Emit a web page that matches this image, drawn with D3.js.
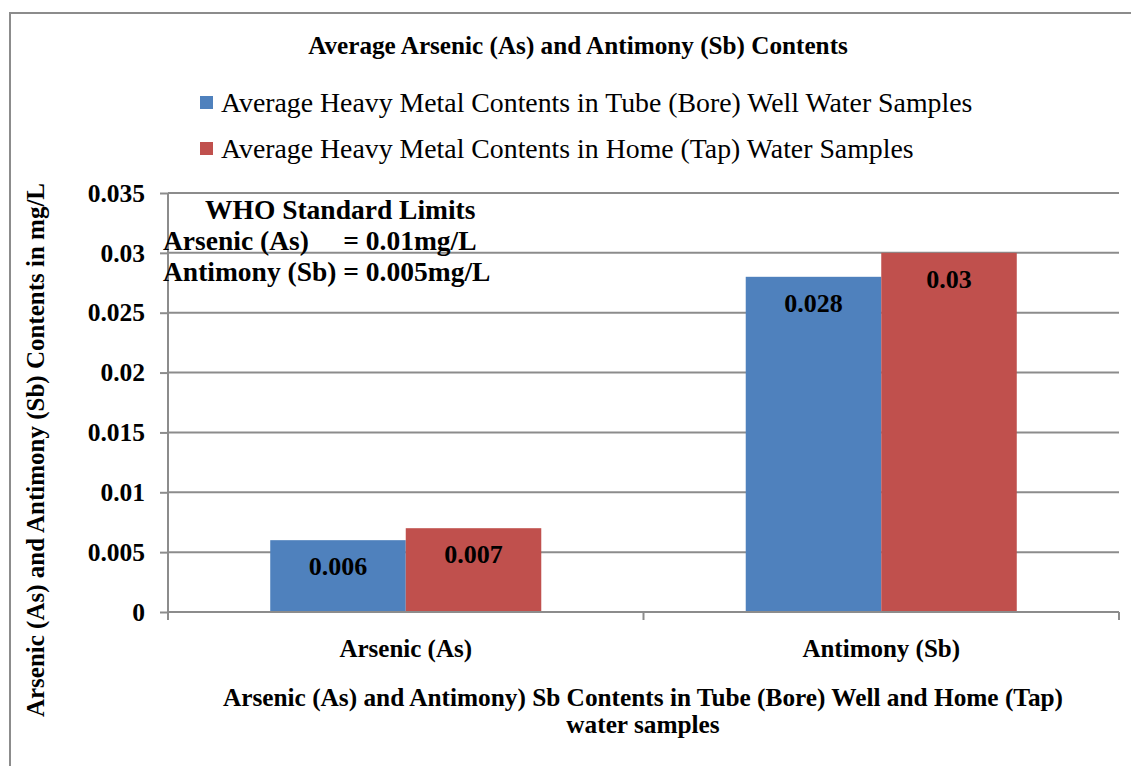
<!DOCTYPE html>
<html>
<head>
<meta charset="utf-8">
<script src="https://cdn.jsdelivr.net/npm/d3@7"></script>
<style>
  html, body { margin: 0; padding: 0; background: #fff; }
  svg { display: block; font-family: "Liberation Serif", "Times New Roman", serif; }
</style>
</head>
<body>
<svg id="chart" width="1131" height="766"></svg>
<script>
// Chart data
const categories = ["Arsenic (As)", "Antimony (Sb)"];
const seriesNames = [
  "Average Heavy Metal Contents in Tube (Bore) Well Water Samples",
  "Average Heavy Metal Contents in Home (Tap) Water Samples"
];
const tubeWell = [0.006, 0.028];
const homeTap = [0.007, 0.03];
const yTicks = [0, 0.005, 0.01, 0.015, 0.02, 0.025, 0.03, 0.035];
const yTickLabels = ["0", "0.005", "0.01", "0.015", "0.02", "0.025", "0.03", "0.035"];
const whoLines = ["WHO Standard Limits", "Arsenic (As)     = 0.01mg/L", "Antimony (Sb) = 0.005mg/L"];
const colors = ["#4F81BD", "#C0504D"];

const svg = d3.select("#chart");
const plot = { left: 168, right: 1119, top: 193, bottom: 612 };
const FONT = "Liberation Serif, Times New Roman, serif";

// Outer chart border (right/bottom edges fall outside the view)
svg.append("rect")
  .attr("x", 10).attr("y", 13).attr("width", 1140).attr("height", 800)
  .attr("fill", "none").attr("stroke", "#8c8c8c").attr("stroke-width", 2);

const x0 = d3.scaleBand().domain(categories)
  .range([plot.left, plot.right]).paddingInner(0.43).paddingOuter(0.215);
const x1 = d3.scaleBand().domain([0, 1]).range([0, x0.bandwidth()]);
const y = d3.scaleLinear().domain([0, 0.035]).range([plot.bottom, plot.top]);

// Horizontal gridlines
svg.append("g").selectAll("line").data(yTicks.slice(1)).join("line")
  .attr("x1", plot.left).attr("x2", plot.right)
  .attr("y1", d => y(d)).attr("y2", d => y(d))
  .attr("stroke", "#8c8c8c").attr("stroke-width", 2);

// Y axis
const yAxis = svg.append("g").attr("transform", `translate(${plot.left},0)`)
  .call(d3.axisLeft(y).tickValues(yTicks).tickSize(8).tickPadding(15)
    .tickFormat((d, i) => yTickLabels[i]));
yAxis.selectAll("path, line").attr("stroke", "#8c8c8c").attr("stroke-width", 2);
yAxis.select(".domain").attr("d", `M0,${plot.top}V${plot.bottom}`);
yAxis.selectAll("text").attr("font-size", 25.5).attr("font-weight", "bold")
  .attr("fill", "#000").attr("font-family", FONT);

// Bars
const groups = svg.append("g").selectAll("g").data(categories).join("g")
  .attr("transform", c => `translate(${x0(c)},0)`);
const barData = (c, i) => [
  { s: 0, v: tubeWell[i] },
  { s: 1, v: homeTap[i] }
];
groups.selectAll("rect").data(barData).join("rect")
  .attr("x", d => x1(d.s)).attr("width", x1.bandwidth())
  .attr("y", d => y(d.v)).attr("height", d => y(0) - y(d.v))
  .attr("fill", d => colors[d.s]);
groups.selectAll("text").data(barData).join("text")
  .attr("x", d => x1(d.s) + x1.bandwidth() / 2)
  .attr("y", d => y(d.v) + 35)
  .attr("text-anchor", "middle").attr("font-size", 26).attr("font-weight", "bold")
  .text(d => String(d.v));

// X axis with category separator ticks
const xAxisG = svg.append("g");
xAxisG.append("line").attr("x1", plot.left).attr("x2", plot.right)
  .attr("y1", plot.bottom).attr("y2", plot.bottom)
  .attr("stroke", "#8c8c8c").attr("stroke-width", 2);
const sepTicks = [plot.left].concat(categories.map(c => x0(c) + x0.bandwidth() + x0.step() * x0.paddingInner() / 2));
sepTicks[sepTicks.length - 1] = plot.right;
xAxisG.selectAll(".sep").data(sepTicks).join("line").attr("class", "sep")
  .attr("x1", d => d).attr("x2", d => d)
  .attr("y1", plot.bottom).attr("y2", plot.bottom + 8)
  .attr("stroke", "#8c8c8c").attr("stroke-width", 2);
xAxisG.selectAll(".cat").data(categories).join("text").attr("class", "cat")
  .attr("x", c => x0(c) + x0.bandwidth() / 2).attr("y", 657)
  .attr("text-anchor", "middle").attr("font-size", 25).attr("font-weight", "bold")
  .text(c => c);

// Axis titles
svg.append("text").attr("x", 643).attr("y", 706).attr("text-anchor", "middle")
  .attr("font-size", 25.3).attr("font-weight", "bold")
  .text("Arsenic (As) and Antimony) Sb Contents in Tube (Bore) Well and Home (Tap)");
svg.append("text").attr("x", 643).attr("y", 733).attr("text-anchor", "middle")
  .attr("font-size", 25.3).attr("font-weight", "bold")
  .text("water samples");
svg.append("text").attr("transform", "translate(44,450) rotate(-90)")
  .attr("text-anchor", "middle").attr("font-size", 25).attr("font-weight", "bold")
  .text("Arsenic (As) and Antimony (Sb) Contents in mg/L");

// Title
svg.append("text").attr("x", 578).attr("y", 54).attr("text-anchor", "middle")
  .attr("font-size", 25.2).attr("font-weight", "bold")
  .text("Average Arsenic (As) and Antimony (Sb) Contents");

// Legend
const legend = svg.append("g").selectAll("g").data(seriesNames).join("g")
  .attr("transform", (d, i) => `translate(200,${96 + i * 46})`);
legend.append("rect").attr("width", 13).attr("height", 13).attr("fill", (d, i) => colors[i]);
legend.append("text").attr("x", 21).attr("y", 16).attr("font-size", 27.8).text(d => d);

// WHO limits annotation
const who = svg.append("text").attr("font-size", 27.5).attr("font-weight", "bold");
who.selectAll("tspan").data(whoLines).join("tspan")
  .attr("x", (d, i) => i === 0 ? 205 : 163)
  .attr("y", (d, i) => 219 + i * 31)
  .attr("xml:space", "preserve")
  .style("white-space", "pre")
  .text(d => d);
</script>
</body>
</html>
